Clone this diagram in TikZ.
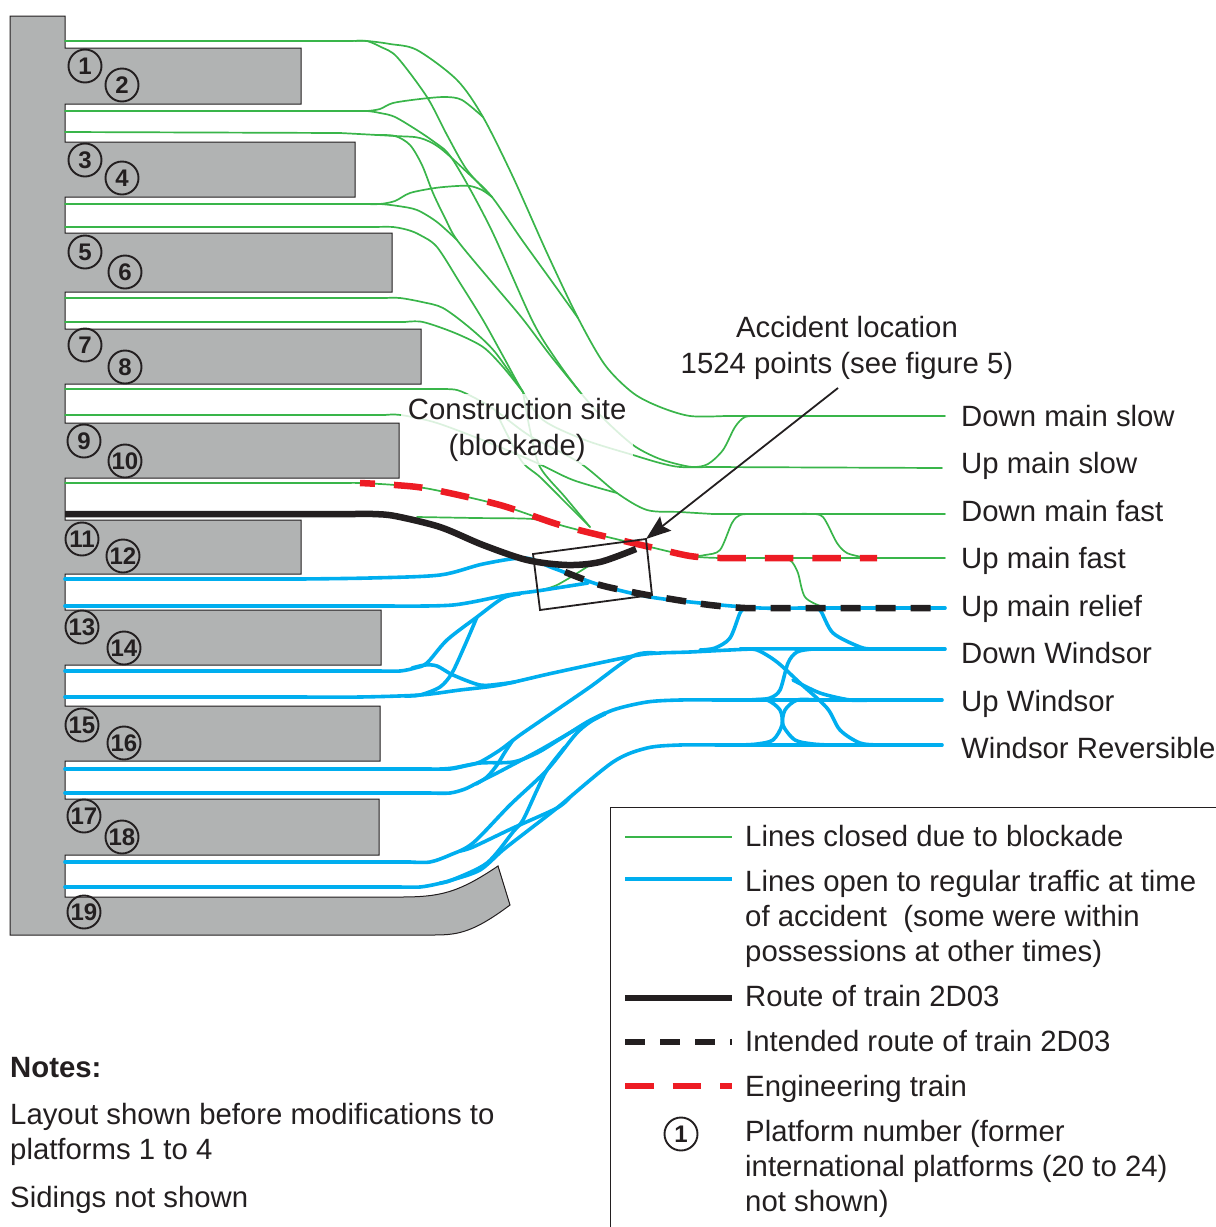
\documentclass[tikz,border=0pt]{standalone}
\usepackage{fontspec}
\setmainfont{Liberation Sans}
\usetikzlibrary{arrows.meta}
\definecolor{tgreen}{HTML}{39B54A}
\definecolor{tblue}{HTML}{00AEEF}
\definecolor{tred}{HTML}{ED1C24}
\definecolor{tink}{HTML}{231F20}
\definecolor{tgray}{HTML}{B1B3B3}
\tikzset{
  greentrack/.style={draw=tgreen,line width=1.7pt,line cap=round,line join=round},
  bluetrack/.style={draw=tblue,line width=3.6pt,line cap=round,line join=round},
  routeline/.style={draw=tink,line width=6.5pt,line join=round},
  intended/.style={draw=tink,line width=6.5pt,dash pattern=on 20pt off 15pt},
  engtrain/.style={draw=tred,line width=6.5pt,dash pattern=on 28.5pt off 19pt},
  stationfill/.style={fill=tgray,draw=tink,line width=1pt,line join=miter},
  numcircle/.style={circle,draw=tink,line width=1.9pt,minimum size=33pt,inner sep=0pt,font=\fontsize{24}{24}\selectfont\bfseries,text=tink},
  txt/.style={anchor=west,inner sep=0pt,align=left,text=tink,font=\fontsize{29.33}{35}\selectfont},
  ctxt/.style={inner sep=0pt,align=center,text=tink,font=\fontsize{29.33}{36}\selectfont},
}
\newcommand{\gtrack}[1]{\draw[greentrack] plot[smooth,tension=0.5] coordinates {#1};}
\newcommand{\btrack}[1]{\draw[bluetrack] plot[smooth,tension=0.5] coordinates {#1};}
\begin{document}
\begin{tikzpicture}[x=1pt,y=-1pt]
\useasboundingbox (0,0) rectangle (1216,1227);
% station
\draw[stationfill] (10,16) -- (65,16) -- (65,48) -- (301,48) -- (301,104) -- (65,104) -- (65,142) -- (355,142) -- (355,197) -- (65,197)
 -- (65,233) -- (392,233) -- (392,292) -- (65,292) -- (65,329) -- (421,329) -- (421,384) -- (65,384) -- (65,423) -- (399,423) -- (399,478) -- (65,478)
 -- (65,520) -- (301,520) -- (301,574) -- (65,574) -- (65,610) -- (381,610) -- (381,665) -- (65,665) -- (65,706) -- (380,706) -- (380,761) -- (65,761)
 -- (65,799) -- (379,799) -- (379,855) -- (65,855) -- (65,897) -- (400,897) .. controls (440,897) and (458,893) .. (498,866) -- (510,905)
 .. controls (470,935) and (455,935) .. (430,935) -- (10,935) -- cycle;
% green straight runs
\foreach \xa/\ya/\xb/\yb in {65/41/350/41, 725/416/945/416, 65/111/355/111, 65/132/340/133, 65/204/365/204, 65/227/375/227, 710/467/942/468, 65/298/385/298, 65/322/405/322, 65/389/440/389, 713/514/945/514, 65/415/385/415, 65/483/345/483, 760/558/945/558}
  \draw[greentrack] (\xa,\ya) -- (\xb,\yb);
% green curves
\gtrack{(350,41) (367,41) (390,44) (417,50) (457,80) (483,117) (513,177) (547,253) (578,318) (605,365) (633,393) (660,407) (690,416) (725,416)}
\gtrack{(355,41) (367,41) (381,47) (397,57) (427,97) (447,135) (467,170) (492,197)}
\gtrack{(355,111) (367,111) (380,109) (393,103) (420,99) (445,97) (462,100) (483,117)}
\gtrack{(355,111) (367,111) (380,113) (397,118) (433,141) (453,160) (490,227) (532,320) (555,358) (580,392) (605,420) (633,445) (655,457) (673,463) (693,467) (708,464) (723,450) (735,427) (745,417) (760,416)}
\gtrack{(340,133) (395,136) (420,138) (440,148) (470,175) (492,197) (522,240) (553,283) (578,318)}
\gtrack{(375,135) (395,136) (410,145) (422,165) (433,193) (445,218) (457,240) (490,280) (522,318) (550,355) (580,392)}
\gtrack{(365,204) (380,204) (395,201) (410,193) (435,188) (457,186) (470,186) (482,190) (492,197)}
\gtrack{(365,204) (380,204) (398,206) (417,210) (437,222) (457,240)}
\gtrack{(375,227) (393,227) (408,230) (420,235) (437,247) (460,283) (483,320) (503,356) (523,392) (543,420) (585,440) (633,455) (660,463) (680,467) (710,467)}
\gtrack{(385,298) (400,298) (422,302) (443,308) (470,328) (495,352) (523,392)}
\gtrack{(405,322) (423,322) (455,333) (483,347) (503,367) (523,392)}
\gtrack{(440,389) (457,390) (475,398) (495,410) (530,436) (580,463) (617,493) (647,510) (680,512) (713,514)}
\gtrack{(385,415) (401,415) (437,423) (490,443) (537,463) (573,480) (617,493)}
\gtrack{(523,392) (530,430) (540,467) (565,497) (590,527)}
\gtrack{(495,410) (510,440) (523,463) (540,477) (565,502) (590,527)}
\gtrack{(345,483) (360,483) (395,485) (430,489) (500,505) (560,525) (620,540) (650,547) (690,556) (720,558) (760,558)}
\gtrack{(417,517) (475,518) (533,519) (560,525)}
\gtrack{(690,557) (705,555) (720,550) (732,523) (740,515) (753,514) (770,514)}
\gtrack{(795,514) (810,514) (823,517) (837,543) (847,553) (862,557)}
\gtrack{(785,558) (792,562) (798,573) (805,597) (823,607) (835,608)}
\gtrack{(533,592) (557,585) (590,565)}
% blue straight runs
\foreach \xa/\ya/\xb/\yb in {65/579/300/579, 800/608/945/608, 65/606/390/606, 65/671/380/671, 65/697/300/697, 800/649/945/649, 65/769/430/769, 65/793/430/793, 720/700/942/700, 65/862/410/862, 65/887/400/887, 720/745/942/745}
  \draw[bluetrack] (\xa,\ya) -- (\xb,\yb);
% blue curves
\btrack{(300,579) (370,578) (440,575) (483,564) (525,558) (553,568) (600,585) (650,597) (710,604) (760,608) (800,608)}
\btrack{(390,606) (453,605) (507,595) (537,591) (588,583)}
\btrack{(380,671) (400,671) (415,668) (427,663) (447,640) (477,617) (503,598) (520,594)}
\btrack{(412,668) (425,665) (437,666) (453,675) (480,685) (500,684) (515,682)}
\btrack{(300,697) (360,697) (420,695) (460,690) (500,685) (553,673) (633,656) (660,653) (690,652) (753,649) (800,649)}
\btrack{(405,696) (420,695) (440,687) (452,673) (465,645) (477,617)}
\btrack{(430,769) (450,769) (465,766) (480,762) (500,750) (520,735) (555,711) (590,687) (633,656) (655,653)}
\btrack{(430,793) (450,793) (465,789) (477,783) (497,773) (540,750) (587,723) (613,710) (647,702) (680,700) (720,700)}
\btrack{(440,769) (453,768) (480,763) (513,762) (537,753) (560,739) (587,722) (605,713)}
\btrack{(476,784) (487,777) (497,765) (505,752) (513,740)}
\btrack{(410,862) (430,862) (450,855) (473,843) (510,805) (547,770) (575,735) (590,722) (605,714)}
\btrack{(460,851) (473,847) (513,828) (557,808) (570,797)}
\btrack{(400,887) (420,887) (437,884) (452,880) (480,870) (503,850) (530,829) (557,808) (613,762) (647,748) (680,745) (720,745)}
\btrack{(440,883) (452,880) (487,863) (513,832) (523,820) (537,790) (547,770) (565,747)}
\btrack{(700,650) (715,648) (730,638) (740,613) (745,609) (755,608)}
\btrack{(810,608) (820,610) (833,633) (860,647) (873,649) (890,649)}
\btrack{(740,649) (757,650) (777,662) (800,683) (827,708) (840,730) (860,743) (880,745) (900,745)}
\btrack{(755,700) (770,698) (780,690) (788,663) (797,652) (813,649) (830,649)}
\btrack{(793,680) (820,693) (850,700) (870,700)}
\btrack{(750,700) (767,700) (780,710) (782,725) (773,740) (757,744) (740,745)}
\btrack{(815,700) (797,700) (785,710) (783,725) (795,740) (813,744) (830,745)}
% construction site label with its veil
\node[ctxt,fill=white,fill opacity=0.82,text opacity=1,minimum width=232pt,minimum height=71pt,anchor=north west] (site) at (401,394) {Construction site\\(blockade)};
% routes
\draw[engtrain,dash phase=13.5pt] plot[smooth,tension=0.5] coordinates {(360,483) (395,485) (430,489) (500,505) (560,525) (620,540) (650,547) (690,556) (720,558) (760,558)} -- (877,558);
\draw[routeline] (65,514) -- (355,514) plot[smooth,tension=0.5] coordinates {(355,514) (373,514) (395,516) (440,527) (483,545) (527,560) (567,565) (600,562) (636,549)};
\draw[intended] plot[smooth,tension=0.5] coordinates {(565,572) (600,585) (642,594) (677,600) (710,605) (745,608) (780,608)} -- (945,608);
% accident box and arrow
\coordinate (boxa) at (533,554);
\coordinate (boxb) at (646,539);
\coordinate (boxc) at (652,595);
\coordinate (boxd) at (540,610);
\draw[tink,line width=1.8pt] (boxa) -- (boxb) -- (boxc) -- (boxd) -- cycle;
\node[ctxt] (acc) at (847,348) {Accident location\\1524 points (see figure 5)};
\coordinate (accstart) at (838,388);
\draw[tink,line width=1.8pt,-{Stealth[length=25pt,width=18pt,inset=4pt]}] (accstart) -- (boxb);
% track names
\node[txt] (n1) at (961,416) {Down main slow};
\node[txt] (n2) at (961,466) {Up main slow};
\node[txt] (n3) at (961,511) {Down main fast};
\node[txt] (n4) at (961,561) {Up main fast};
\node[txt] (n5) at (961,609) {Up main relief};
\node[txt] (n6) at (961,653) {Down Windsor};
\node[txt] (n7) at (961,704) {Up Windsor};
\node[txt] (n8) at (961,748) {Windsor Reversible};
% platform numbers
\foreach \nm/\px/\py in {1/85/66,2/122/85,3/85/160,4/122/178,5/85/252,6/125/272,7/85/345,8/125/367,9/84/441,10/125/461,11/82/539,12/123/556,13/82/627,14/124/648,15/82/725,16/124/743,17/84/816,18/122/837,19/84/912}
  \node[numcircle] (p\nm) at (\px,\py) {\nm};
% legend
\coordinate (legtl) at (610,807);
\coordinate (legtr) at (1216,807);
\coordinate (legbl) at (610,1227);
\draw[tink,line width=1pt] (legtr) -- (legtl) -- (legbl);
\coordinate (la1) at (625,837); \coordinate (lb1) at (732,837);
\coordinate (la2) at (625,879); \coordinate (lb2) at (732,879);
\coordinate (la3) at (625,998); \coordinate (lb3) at (732,998);
\coordinate (la4) at (625,1042); \coordinate (lb4) at (732,1042);
\coordinate (la5) at (625,1086); \coordinate (lb5) at (732,1086);
\draw[tgreen,line width=1.7pt] (la1) -- (lb1);
\draw[tblue,line width=3.6pt] (la2) -- (lb2);
\draw[routeline] (la3) -- (lb3);
\draw[intended] (la4) -- (lb4);
\draw[engtrain] (la5) -- (lb5);
\node[numcircle] (legnum) at (681,1134) {1};
\node[txt] (t1) at (745,836) {Lines closed due to blockade};
\node[txt] (t2) at (745,919) {Lines open to regular traffic at time\\of accident\ \ (some were within\\possessions at other times)};
\node[txt] (t3) at (745,996) {Route of train 2D03};
\node[txt] (t4) at (745,1041) {Intended route of train 2D03};
\node[txt] (t5) at (745,1089) {Engineering train};
\node[txt] (t6) at (745,1169) {Platform number (former\\international platforms (20 to 24)\\not shown)};
% notes
\node[txt,font=\fontsize{29.33}{35}\selectfont\bfseries] (notes) at (10,1068) {Notes:};
\node[txt] (nt1) at (10,1134.5) {Layout shown before modifications to\\platforms 1 to 4};
\node[txt] (nt2) at (10,1200) {Sidings not shown};
\end{tikzpicture}
\end{document}
